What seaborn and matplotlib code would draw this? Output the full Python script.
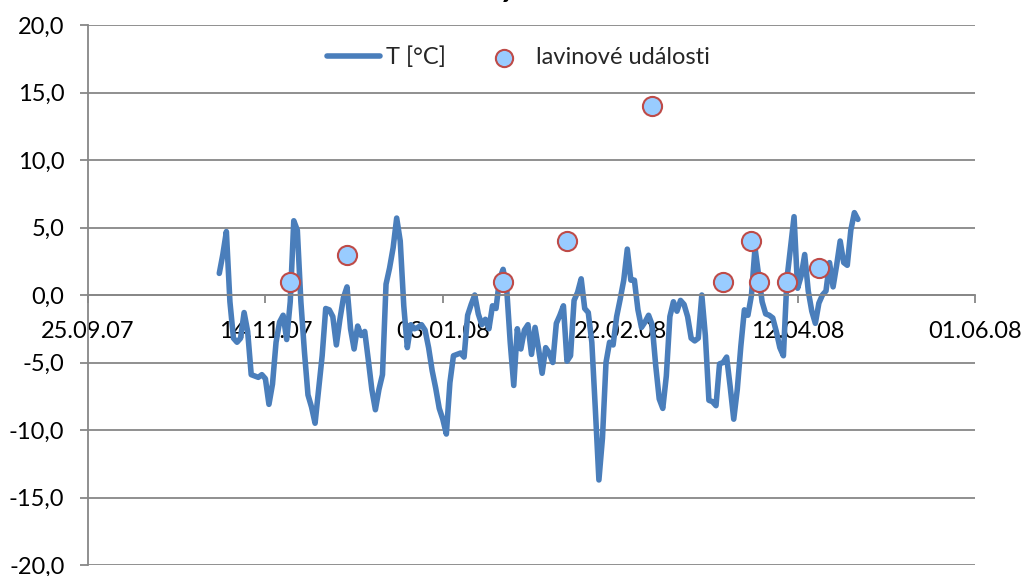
import pandas as pd
import matplotlib
matplotlib.use("Agg")
import matplotlib.pyplot as plt
from matplotlib.ticker import FuncFormatter, FixedLocator
import matplotlib.dates as mdates
import seaborn as sns

# ---- data -------------------------------------------------------------
title_text = "2007/2008"
temp_label = "T [°C]"
event_label = "lavinové události"

# daily air temperature, starting 1 Nov 2007
temp_start = "2007-11-01"
temps = [
    1.6, 3.0, 4.7, -0.5, -3.2, -3.5, -3.2, -1.3, -2.7, -5.9,
    -6.0, -6.1, -5.9, -6.2, -8.1, -6.6, -3.5, -2.0, -1.5, -3.3,
    -0.5, 5.5, 4.8, -0.5, -4.2, -7.4, -8.3, -9.5, -7.0, -4.5,
    -1.0, -1.1, -1.6, -3.7, -1.8, -0.2, 0.6, -2.5, -4.0, -2.3,
    -3.0, -2.7, -4.8, -7.0, -8.5, -7.0, -5.9, 0.8, 2.0, 3.5,
    5.7, 4.0, -0.8, -3.9, -2.2, -2.5, -2.4, -2.2, -2.6, -3.9,
    -5.6, -6.9, -8.4, -9.2, -10.3, -6.5, -4.5, -4.4, -4.3, -4.6,
    -1.5, -0.7, 0.0, -1.4, -2.2, -1.8, -2.5, -0.8, -1.0, 1.2,
    1.9, 0.5, -3.5, -6.7, -2.5, -4.0, -2.6, -2.2, -4.4, -2.4,
    -4.0, -5.8, -3.9, -4.3, -5.0, -2.1, -1.5, -0.8, -4.9, -4.5,
    -0.4, 0.2, 1.2, -1.0, -1.3, -3.5, -8.5, -13.7, -10.6, -5.0,
    -3.5, -3.7, -1.6, -0.3, 1.1, 3.4, 1.1, 1.1, -1.1, -2.4,
    -2.0, -1.5, -2.2, -5.2, -7.7, -8.4, -6.0, -1.6, -0.5, -1.2,
    -0.4, -0.7, -1.6, -3.2, -3.4, -3.2, 0.0, -3.0, -7.8, -7.9,
    -8.2, -5.1, -5.0, -4.6, -6.8, -9.2, -7.0, -3.8, -1.1, -1.5,
    0.0, 3.5, 1.5, -0.5, -1.4, -1.5, -1.7, -2.7, -3.9, -4.5,
    1.2, 3.5, 5.8, 0.5, 1.4, 3.0, 0.3, -1.2, -2.1, -0.6,
    0.0, 0.3, 2.4, 0.6, 2.2, 4.0, 2.4, 2.2, 4.8, 6.1,
    5.6,
]

# avalanche events
event_dates = [
    "2007-11-21", "2007-12-07", "2008-01-20", "2008-02-07", "2008-03-02",
    "2008-03-22", "2008-03-30", "2008-04-01", "2008-04-09", "2008-04-18",
]
event_values = [1.0, 3.0, 1.0, 4.0, 14.0, 1.0, 4.0, 1.0, 1.0, 2.0]

x_start = "2007-09-25"
x_end = "2008-06-01"
x_tick_step = "50D"
y_ticks = [-20, -15, -10, -5, 0, 5, 10, 15, 20]

# ---- frames -----------------------------------------------------------
temp_df = pd.DataFrame({
    "date": pd.date_range(temp_start, periods=len(temps), freq="D"),
    "T": temps,
})
event_df = pd.DataFrame({"date": pd.to_datetime(event_dates), "value": event_values})

# ---- style ------------------------------------------------------------
sns.set_style("white")
plt.rcParams["font.family"] = ["Lato", "DejaVu Sans"]

LINE_BLUE = "#4A7EBB"
MARKER_FILL = "#99CCFF"
MARKER_EDGE = "#BE4B48"
GRID = "#878787"

W, H = 1026, 576
fig = plt.figure(figsize=(W / 100, H / 100), dpi=100)
ax = fig.add_axes([88 / W, 11 / H, 887 / W, 540 / H])

sns.lineplot(data=temp_df, x="date", y="T", ax=ax, color=LINE_BLUE,
             linewidth=4.0, label=temp_label, zorder=2)
for ln in ax.get_lines():
    ln.set_solid_capstyle("round")
    ln.set_solid_joinstyle("round")

sns.scatterplot(data=event_df, x="date", y="value", ax=ax, s=190,
                color=MARKER_FILL, edgecolor=MARKER_EDGE, linewidth=1.5,
                label=event_label, zorder=4)

# ---- axes -------------------------------------------------------------
ax.set_xlim(pd.Timestamp(x_start), pd.Timestamp(x_end))
ax.set_ylim(y_ticks[0], y_ticks[-1])
ax.set_xlabel("")
ax.set_ylabel("")

xt = pd.date_range(x_start, x_end, freq=x_tick_step)
ax.xaxis.set_major_locator(FixedLocator(mdates.date2num(xt)))
ax.xaxis.set_major_formatter(mdates.DateFormatter("%d.%m.%y"))
ax.yaxis.set_major_locator(FixedLocator(y_ticks))
ax.yaxis.set_major_formatter(FuncFormatter(lambda v, p: f"{v:.1f}".replace(".", ",")))

ax.yaxis.grid(True, color=GRID, linewidth=1.3)
ax.xaxis.grid(False)
ax.set_axisbelow(True)

for side in ("top", "right"):
    ax.spines[side].set_visible(False)
ax.spines["left"].set_color(GRID)
ax.spines["left"].set_linewidth(1.3)
ax.spines["bottom"].set_position(("data", 0))
ax.spines["bottom"].set_color(GRID)
ax.spines["bottom"].set_linewidth(1.3)

ax.tick_params(axis="x", direction="out", length=6, width=1.3, color=GRID,
               pad=13, labelsize=17, labelcolor="black", bottom=True)
ax.tick_params(axis="y", direction="out", length=6, width=1.3, color=GRID,
               pad=11, labelsize=17, labelcolor="black", left=True)

handles, labels = ax.get_legend_handles_labels()
ax.legend(handles, labels, loc="center", bbox_to_anchor=(518.5 / W, 1 - 57 / H),
          bbox_transform=fig.transFigure, ncol=2, frameon=False, fontsize=17,
          handlelength=2.25, handletextpad=0.25, columnspacing=1.35,
          markerscale=0.9)

# title sits at the very top edge of the canvas
fig.text(512 / W, 1.0, title_text, ha="center", va="baseline",
         fontsize=31, fontweight="bold", color="black")

fig.savefig("out.png", dpi=100)
